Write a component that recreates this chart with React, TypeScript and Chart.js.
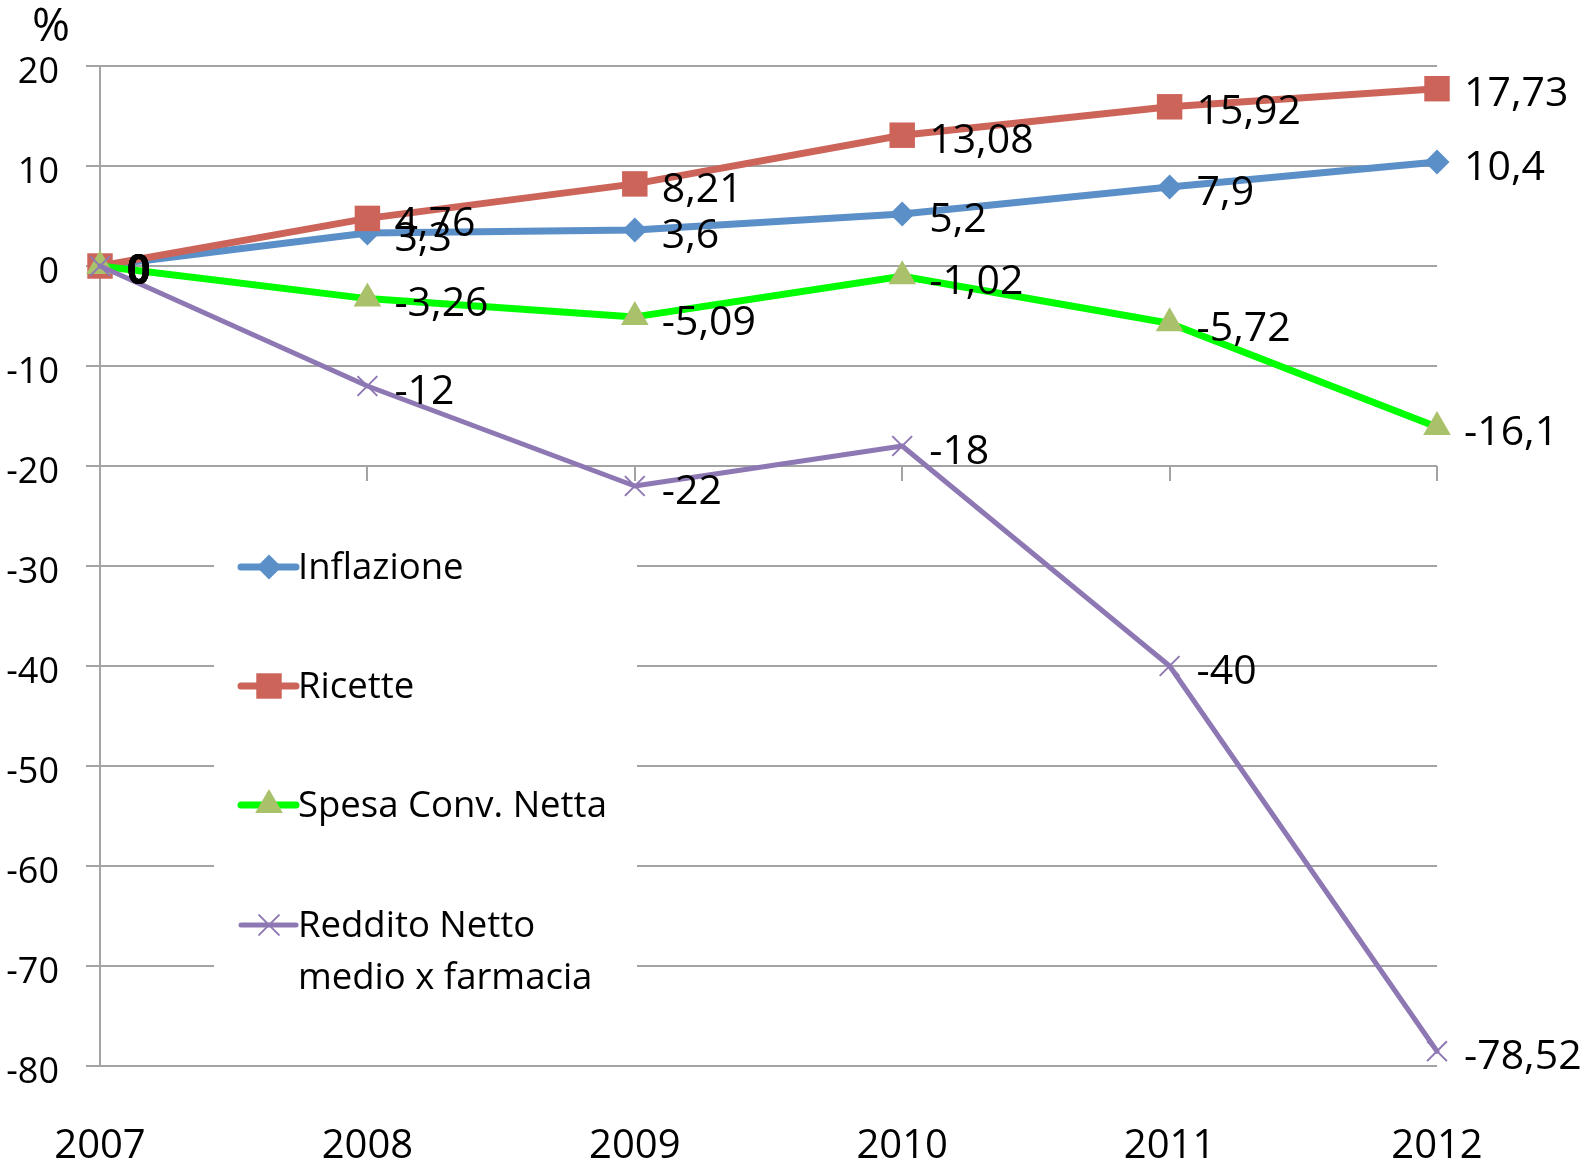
import React, { useEffect, useRef } from 'react';
import { Chart, registerables } from 'chart.js';
import { drawPoint } from 'chart.js/helpers';

Chart.register(...registerables);

// ---- data ----
const years = ['2007', '2008', '2009', '2010', '2011', '2012'];
const inflazione = [0, 3.3, 3.6, 5.2, 7.9, 10.4];
const ricette = [0, 4.76, 8.21, 13.08, 15.92, 17.73];
const spesaConvNetta = [0, -3.26, -5.09, -1.02, -5.72, -16.1];
const redditoNetto = [0, -12, -22, -18, -40, -78.52];
const seriesNames = ['Inflazione', 'Ricette', 'Spesa Conv. Netta', 'Reddito Netto medio x farmacia'];
const legendLines = [['Inflazione'], ['Ricette'], ['Spesa Conv. Netta'], ['Reddito Netto', 'medio x farmacia']];
const yMin = -80;
const yMax = 20;
const yStep = 10;
const categoryAxisCross = -20;
const unitLabel = '%';

const FONT = "'Open Sans', 'Noto Sans', sans-serif";
const GRID = '#a3a3a3';

const fmt = (v: number) => String(v).replace('.', ',');

const unitPlugin = {
  id: 'unitLabel',
  afterDraw(chart: any) {
    const ctx = chart.ctx;
    ctx.save();
    ctx.fillStyle = '#000';
    ctx.font = `46px ${FONT}`;
    ctx.textAlign = 'center';
    ctx.textBaseline = 'middle';
    ctx.fillText(unitLabel, 51, 28);
    ctx.restore();
  },
};

const axisTicksAndLegendPlugin = {
  id: 'axisTicksAndLegend',
  beforeDatasetsDraw(chart: any) {
    const ctx = chart.ctx;
    const xs = chart.scales.x;
    const ys = chart.scales.y;
    ctx.save();
    // category tick marks on the crossing line
    const yc = ys.getPixelForValue(categoryAxisCross);
    ctx.strokeStyle = GRID;
    ctx.lineWidth = 2;
    for (let i = 0; i < years.length; i++) {
      const x = Math.round(xs.getPixelForTick(i));
      ctx.beginPath();
      ctx.moveTo(x, yc);
      ctx.lineTo(x, yc + 15);
      ctx.stroke();
    }
    // legend box
    const bx = 214, by = 495, bw = 423, bh = 520;
    ctx.fillStyle = '#fff';
    ctx.fillRect(bx, by, bw, bh);
    const rowY = [567, 686, 805, 925];
    const lineH = 52;
    chart.data.datasets.forEach((ds: any, i: number) => {
      const cy = rowY[i];
      ctx.strokeStyle = ds.borderColor;
      ctx.lineWidth = ds.borderWidth;
      ctx.lineCap = 'round';
      ctx.beginPath();
      ctx.moveTo(241, cy);
      ctx.lineTo(296, cy);
      ctx.stroke();
      ctx.fillStyle = ds.pointBackgroundColor;
      ctx.strokeStyle = ds.pointBorderColor;
      ctx.lineWidth = ds.pointBorderWidth;
      drawPoint(ctx, { pointStyle: ds.pointStyle, radius: ds.pointRadius, rotation: 0, borderWidth: ds.pointBorderWidth }, 269, cy);
      ctx.fillStyle = '#000';
      ctx.font = `36.5px ${FONT}`;
      ctx.textAlign = 'left';
      ctx.textBaseline = 'middle';
      legendLines[i].forEach((t, k) => ctx.fillText(t, 298, cy + 2 + k * lineH));
    });
    ctx.restore();
  },
};

const dataLabelPlugin = {
  id: 'dataLabels',
  afterDatasetsDraw(chart: any) {
    const ctx = chart.ctx;
    ctx.save();
    ctx.fillStyle = '#000';
    ctx.textAlign = 'left';
    ctx.textBaseline = 'middle';
    chart.data.datasets.forEach((ds: any, i: number) => {
      const meta = chart.getDatasetMeta(i);
      meta.data.forEach((el: any, j: number) => {
        const v = ds.data[j];
        ctx.font = v === 0 ? `bold 41px ${FONT}` : `41px ${FONT}`;
        ctx.fillText(fmt(v), el.x + 27, el.y + 6);
      });
    });
    ctx.restore();
  },
};

export default function App() {
  const canvasRef = useRef<HTMLCanvasElement | null>(null);

  useEffect(() => {
    document.body.style.margin = '0';
    const canvas = canvasRef.current;
    if (!canvas) return;
    Chart.defaults.font.family = FONT;
    const blue = '#5b8fc8';
    const red = '#cc645a';
    const green = '#00ff00';
    const tri = '#a9c16b';
    const purple = '#8e78b4';
    const chart = new Chart(canvas, {
      type: 'line',
      data: {
        labels: years,
        datasets: [
          {
            label: seriesNames[0],
            data: inflazione,
            borderColor: blue,
            backgroundColor: blue,
            borderWidth: 7,
            pointStyle: 'rectRot',
            pointRadius: 12.5,
            pointBackgroundColor: blue,
            pointBorderColor: blue,
            pointBorderWidth: 0,
            order: 3,
          },
          {
            label: seriesNames[1],
            data: ricette,
            borderColor: red,
            backgroundColor: red,
            borderWidth: 7,
            pointStyle: 'rect',
            pointRadius: 18,
            pointBackgroundColor: red,
            pointBorderColor: red,
            pointBorderWidth: 0,
            order: 2,
          },
          {
            label: seriesNames[2],
            data: spesaConvNetta,
            borderColor: green,
            backgroundColor: tri,
            borderWidth: 7,
            pointStyle: 'triangle',
            pointRadius: 16,
            pointBackgroundColor: tri,
            pointBorderColor: tri,
            pointBorderWidth: 0,
            order: 1,
          },
          {
            label: seriesNames[3],
            data: redditoNetto,
            borderColor: purple,
            backgroundColor: purple,
            borderWidth: 5,
            pointStyle: 'crossRot',
            pointRadius: 14,
            pointBackgroundColor: purple,
            pointBorderColor: purple,
            pointBorderWidth: 2,
            order: 0,
          },
        ] as any,
      },
      options: {
        responsive: false,
        animation: false,
        devicePixelRatio: 1,
        clip: false as any,
        elements: {
          line: { tension: 0, borderJoinStyle: 'round', borderCapStyle: 'round' },
        },
        layout: { padding: { left: 0, top: 66, right: 149, bottom: 0 } },
        plugins: {
          legend: { display: false },
          tooltip: { enabled: false },
          title: { display: false },
        },
        scales: {
          x: {
            type: 'category',
            offset: false,
            grid: { display: false, drawTicks: false },
            border: { display: false },
            ticks: {
              color: '#000',
              font: { size: 40, family: FONT },
              padding: 57,
              maxRotation: 0,
              autoSkip: false,
            },
            afterFit: (s: any) => {
              s.height = 101;
              s.paddingLeft = 0;
              s.paddingRight = 0;
            },
          },
          y: {
            min: yMin,
            max: yMax,
            grid: { color: GRID, lineWidth: 2, tickLength: 14, drawTicks: true },
            border: { display: true, color: GRID, width: 2 },
            ticks: {
              stepSize: yStep,
              color: '#000',
              font: { size: 36, family: FONT },
              padding: 27,
              labelOffset: 7,
            },
            afterFit: (s: any) => { s.width = 100; },
          },
        },
      },
      plugins: [axisTicksAndLegendPlugin, dataLabelPlugin, unitPlugin],
    });
    return () => chart.destroy();
  }, []);

  return (
    <div style={{ position: 'absolute', left: 0, top: 0, width: 1586, height: 1167, background: '#fff' }}>
      <canvas ref={canvasRef} width={1586} height={1167} style={{ display: 'block', width: 1586, height: 1167 }} />
    </div>
  );
}
